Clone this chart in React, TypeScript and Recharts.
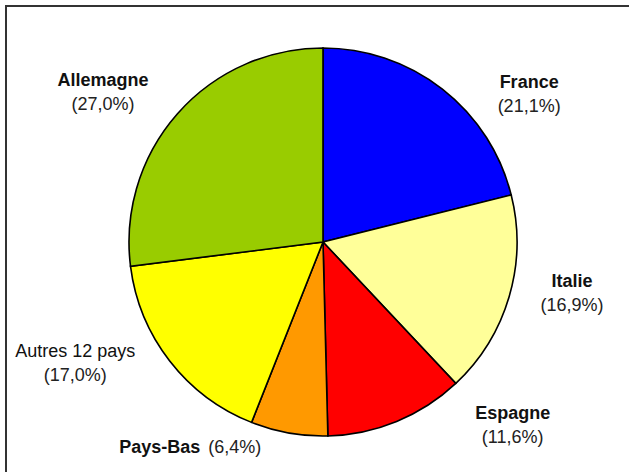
import React from "react";
import { PieChart, Pie, Cell } from "recharts";

// Parts (%) by country, clockwise from 12 o'clock
const countries = ["France", "Italie", "Espagne", "Pays-Bas", "Autres 12 pays", "Allemagne"];
const shares = [21.1, 16.9, 11.6, 6.4, 17.0, 27.0];
const sliceColors = ["#0000FF", "#FFFF99", "#FF0000", "#FF9900", "#FFFF00", "#99CC00"];
const boldNames = [true, true, true, true, false, true];
const inlineLabels = [false, false, false, true, false, false];

// label nudges from the radial anchor point (outerRadius + 50)
const labelNudge: [number, number][] = [
  [56, 38],
  [15, -24],
  [97, -49],
  [-90, -29],
  [-55, -35],
  [-37, 5],
];

const data = countries.map((name, i) => ({ name, value: shares[i] }));

const RADIAN = Math.PI / 180;
const FONT = "'Liberation Sans', Arial, Helvetica, sans-serif";

const fmt = (v: number) => `(${v.toFixed(1).replace(".", ",")}%)`;

const renderLabel = (props: any) => {
  const { cx, cy, midAngle, outerRadius, index, value } = props;
  const r = outerRadius + 50;
  const [nx, ny] = labelNudge[index];
  const x = cx + r * Math.cos(-midAngle * RADIAN) + nx;
  const y = cy + r * Math.sin(-midAngle * RADIAN) + ny;
  const weight = boldNames[index] ? 700 : 400;

  if (inlineLabels[index]) {
    return (
      <text x={x} y={y} textAnchor="middle" fontFamily={FONT} fontSize={18} fill="#111">
        <tspan fontWeight={weight}>{countries[index]}</tspan>
        <tspan dx={8} fill="#222">{fmt(value)}</tspan>
      </text>
    );
  }

  return (
    <text x={x} y={y} textAnchor="middle" fontFamily={FONT} fontSize={18} fill="#111">
      <tspan x={x} fontWeight={weight}>{countries[index]}</tspan>
      <tspan x={x} dy={24} fill="#222">{fmt(value)}</tspan>
    </text>
  );
};

export default function App() {
  return (
    <div
      style={{
        position: "absolute",
        left: 0,
        top: 0,
        width: 629,
        height: 472,
        background: "#fff",
        overflow: "hidden",
      }}
    >
      <div
        style={{
          position: "absolute",
          left: 5,
          top: 5,
          width: 630,
          height: 470,
          borderLeft: "2px solid #333",
          borderTop: "2px solid #333",
        }}
      />
      <PieChart width={629} height={472} margin={{ top: 0, right: 0, bottom: 0, left: 0 }}>
        <Pie
          data={data}
          dataKey="value"
          nameKey="name"
          cx={323}
          cy={242}
          outerRadius={194}
          startAngle={90}
          endAngle={-270}
          stroke="#000"
          strokeWidth={1.6}
          label={renderLabel}
          labelLine={false}
          isAnimationActive={false}
        >
          {data.map((d, i) => (
            <Cell key={d.name} fill={sliceColors[i]} />
          ))}
        </Pie>
      </PieChart>
    </div>
  );
}
